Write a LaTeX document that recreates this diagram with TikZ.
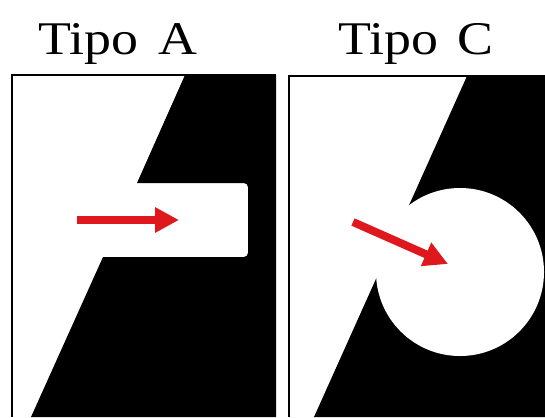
\documentclass[tikz,border=0pt]{standalone}
\usepackage{fontspec}
\setmainfont{Liberation Serif}
\usetikzlibrary{arrows.meta}

\definecolor{arrowred}{RGB}{222,24,28}

\begin{document}
\begin{tikzpicture}[
    x=0.03cm, y=-0.03cm,
    frame/.style={line width=1.1pt, black},
    solid part/.style={fill=black},
    hole/.style={fill=white},
    title/.style={anchor=base, inner sep=0pt, font=\fontsize{40}{44}\selectfont},
    push/.style={draw=arrowred, line width=6.8pt, -{Triangle[length=0.72cm, width=0.72cm]}}]

    \useasboundingbox[fill=white] (0,0) rectangle (545,417);

    \node[title] (tipoA) at (118,54) {\scalebox{1.15}[1]{Tipo\hspace{0.36em}A}};
    \node[title] (tipoC) at (416,54) {\scalebox{1.15}[1]{Tipo\hspace{0.36em}C}};

    % Tipo A
    \fill[solid part] (185,75) -| (276,417) -- (31,417) -- (103,257) -- (200,257)
        [rounded corners=3.5pt] -- (248,257) -- (248,183) -- (200,183)
        [sharp corners] -- (137,183) -- cycle;
    \draw[frame] (12,417) |- (276,75);

    \coordinate (a-tail) at (77,220);
    \coordinate (a-head) at (179,220);
    \draw[push] (a-tail) -- (a-head);

    % Tipo C
    \fill[solid part] (467,76) -| (545,417) -- (314,417) -- cycle;
    \fill[hole] (460,272) circle[radius=2.52cm];
    \draw[frame] (289,417) |- (545,76);

    \coordinate (c-tail) at (353,222);
    \coordinate (c-head) at (448,264);
    \draw[push] (c-tail) -- (c-head);
\end{tikzpicture}
\end{document}
